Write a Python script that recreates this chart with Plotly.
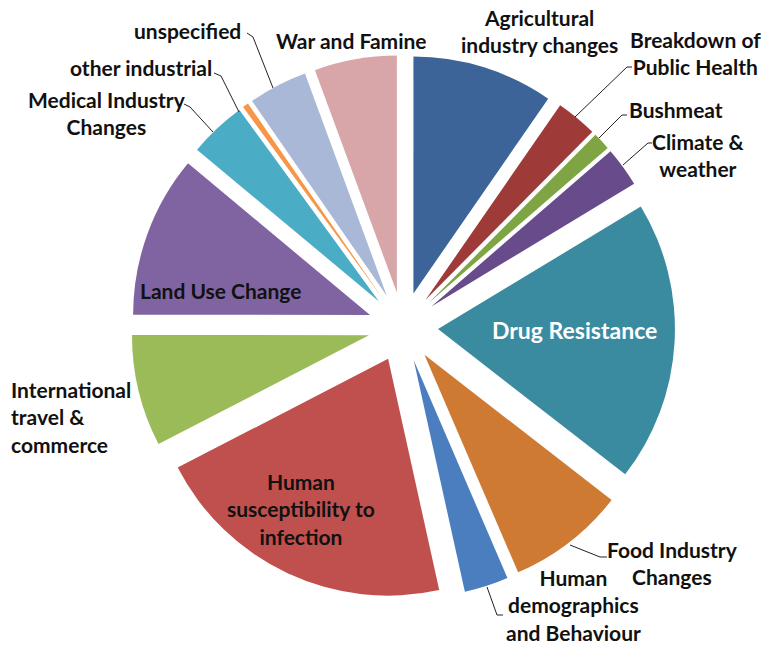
import plotly.graph_objects as go

W, H = 764, 647

categories = [
    "Agricultural industry changes", "Breakdown of Public Health", "Bushmeat",
    "Climate & weather", "Drug Resistance", "Food Industry Changes",
    "Human demographics and Behaviour", "Human susceptibility to infection",
    "International travel & commerce", "Land Use Change",
    "Medical Industry Changes", "other industrial", "unspecified", "War and Famine",
]
values = [9.6, 2.8, 1.2, 2.7, 19.1, 8.0, 3.0, 20.8, 7.6, 11.0, 3.9, 0.4, 4.0, 5.6]
colors = [
    "#3D6498", "#9E3B39", "#7FA443", "#674B8B", "#3A8B9F", "#CF7A33",
    "#4A7EBF", "#C0504D", "#9BBB59", "#8064A2", "#4BACC6", "#F79646",
    "#AAB8D7", "#D8A5A8",
]

# pie geometry (pixels)
cx, cy, half = 403, 327, 272

fig = go.Figure(go.Pie(
    labels=categories, values=values, sort=False, direction="clockwise",
    rotation=0, marker=dict(colors=colors, line=dict(width=0)),
    pull=[0.148] * len(values), textinfo="none", hoverinfo="label+value",
    showlegend=False,
    domain=dict(x=[(cx - half) / W, (cx + half) / W],
                y=[1 - (cy + half) / H, 1 - (cy - half) / H]),
))

def px(x):
    return x / W

def py(y):
    return 1 - y / H

FONT = "Lato"
S = 21
labels = [
    # text, x, y, align, xanchor, color, size
    ("Agricultural<br>industry changes", 539, 31, "center", "center", "#111", S),
    ("Breakdown of<br>Public Health", 695, 53, "center", "center", "#111", S),
    ("Bushmeat", 627, 110, "left", "left", "#111", S),
    ("Climate &amp;<br>weather", 698, 155, "center", "center", "#111", S),
    ("Drug Resistance", 574, 330, "center", "center", "#FFFFFF", 23),
    ("Food Industry<br>Changes", 672, 563, "center", "center", "#111", S),
    ("Human<br>demographics<br>and Behaviour", 573, 605, "center", "center", "#111", S),
    ("Human<br>susceptibility to<br>infection", 301, 509, "center", "center", "#111", S),
    ("International<br>travel &amp;<br>commerce", 9, 417, "left", "left", "#111", S),
    ("Land Use Change", 220, 290, "center", "center", "#111", S),
    ("Medical Industry<br>Changes", 107, 113, "center", "center", "#111", S),
    ("other industrial", 214, 67, "right", "right", "#111", S),
    ("unspecified", 243, 30, "right", "right", "#111", S),
    ("War and Famine", 351, 40, "center", "center", "#111", S),
]
annotations = []
for t, x, y, al, xa, c, s in labels:
    annotations.append(dict(
        text="<b>" + t + "</b>", x=px(x), y=py(y), xref="paper", yref="paper",
        xanchor=xa, yanchor="middle", align=al, showarrow=False,
        font=dict(family=FONT, size=s, color=c),
    ))

# leader lines (polylines, pixels)
leaders = [
    [(575, 117), (627, 67), (632, 67)],
    [(599, 138), (622, 115), (627, 115)],
    [(623, 165), (648, 143), (652, 143)],
    [(570, 545), (600, 557), (607, 557)],
    [(487, 587), (497, 615), (503, 615)],
    [(247, 33), (253, 37), (273, 88)],
    [(214, 73), (221, 76), (239, 112)],
    [(184, 104), (190, 107), (213, 132)],
]
shapes = []
for pts in leaders:
    path = "M " + " L ".join(f"{px(x)},{py(y)}" for x, y in pts)
    shapes.append(dict(type="path", xref="paper", yref="paper", path=path,
                       line=dict(color="#222", width=1)))

fig.update_layout(
    width=W, height=H, margin=dict(l=0, r=0, t=0, b=0),
    paper_bgcolor="white", plot_bgcolor="white",
    annotations=annotations, shapes=shapes,
)
fig.write_html("out.html")
